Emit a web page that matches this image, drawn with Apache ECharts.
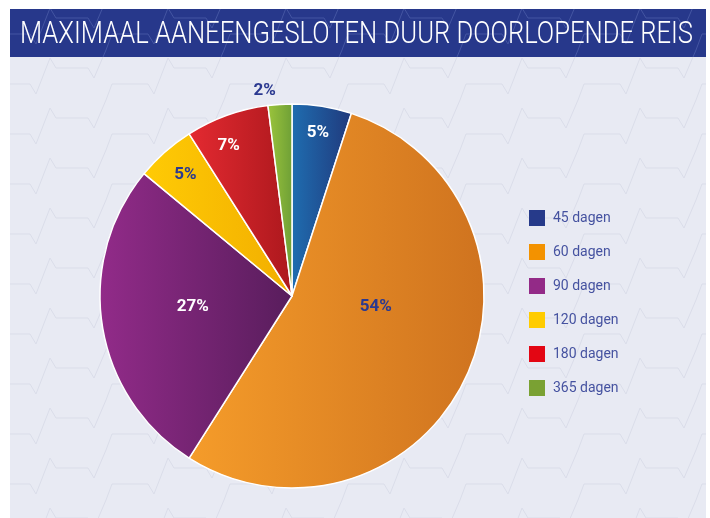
<!DOCTYPE html>
<html>
<head>
<meta charset="utf-8">
<script src="https://cdn.jsdelivr.net/npm/echarts@6/dist/echarts.min.js"></script>
<style>
  html, body { margin: 0; padding: 0; background: #ffffff; }
  #chart { width: 710px; height: 518px; }
</style>
</head>
<body>
<div id="chart"></div>
<script>
// data
const titleText = 'MAXIMAAL AANEENGESLOTEN DUUR DOORLOPENDE REIS';
const categories = ['45 dagen', '60 dagen', '90 dagen', '120 dagen', '180 dagen', '365 dagen'];
const shares = [5, 54, 27, 5, 7, 2];

// kleuren: [licht, donker] per taart-segment, vlakke kleur voor de legenda
const sliceColors = [
  ['#1f6db0', '#20397c'],
  ['#f59c2a', '#cf731f'],
  ['#922b89', '#581d5c'],
  ['#ffcb05', '#f2ae00'],
  ['#e42a31', '#ac181d'],
  ['#9cc53c', '#6e9f36']
];
const legendColors = ['#263a8a', '#f39200', '#932a87', '#ffcc00', '#e30613', '#7aa133'];
const labelColors = ['#ffffff', '#2b3990', '#ffffff', '#2b3990', '#ffffff', '#2b3990'];

const font = 'Roboto, sans-serif';
const cx = 292, cy = 296, R = 192;

// label plaatsing: fractie van straal en hoekverschuiving (graden)
const labelRadius = [0.86, 0.44, 0.52, 0.84, 0.85, 1.08];
const labelShift = [0, -18, 3, 0, -3, -4];

// achtergrondpatroon (hartslaglijntjes)
function makePattern(stroke) {
  const c = document.createElement('canvas');
  c.width = 118; c.height = 50;
  const g = c.getContext('2d');
  g.strokeStyle = stroke;
  g.lineWidth = 1;
  g.beginPath();
  g.moveTo(0, 34); g.lineTo(30, 34); g.lineTo(36, 44); g.lineTo(50, 8);
  g.lineTo(56, 18); g.lineTo(88, 18); g.lineTo(94, 28); g.lineTo(106, 0);
  g.moveTo(106, 50); g.lineTo(112, 34); g.lineTo(118, 34);
  g.stroke();
  return c;
}

// titel smal maken (condensed letter)
const titleFont = '300 32px ' + font;
const measure = document.createElement('canvas').getContext('2d');
measure.font = titleFont;
const titleScale = 673 / measure.measureText(titleText).width;

const chart = echarts.init(document.getElementById('chart'));

const total = shares.reduce((a, b) => a + b, 0);
const midAngles = [];
let acc = 0;
shares.forEach(v => {
  midAngles.push((acc + v / 2) / total * 360);
  acc += v;
});

const pieData = categories.map((name, i) => ({
  name: name,
  value: shares[i],
  itemStyle: {
    color: new echarts.graphic.LinearGradient(0, 0, 1, 0, [
      { offset: 0, color: sliceColors[i][0] },
      { offset: 1, color: sliceColors[i][1] }
    ])
  },
  label: { color: labelColors[i] }
}));

const option = {
  backgroundColor: '#ffffff',
  animation: false,
  graphic: [
    { type: 'rect', z: -10, shape: { x: 10, y: 9, width: 696, height: 509 }, style: { fill: '#e8eaf3' } },
    { type: 'rect', z: -9, shape: { x: 10, y: 57, width: 696, height: 461 },
      style: { fill: { image: makePattern('#dadde9'), repeat: 'repeat' } } },
    { type: 'rect', z: -8, shape: { x: 10, y: 9, width: 696, height: 48 }, style: { fill: '#27388b' } },
    { type: 'rect', z: -7, shape: { x: 10, y: 9, width: 696, height: 48 },
      style: { fill: { image: makePattern('#4455a2'), repeat: 'repeat' } } },
    { type: 'text', z: 10, x: 20, y: 35, scaleX: titleScale,
      style: { text: titleText, fill: '#ffffff', font: titleFont, verticalAlign: 'middle' } }
  ],
  legend: {
    orient: 'vertical',
    left: 529,
    top: 210,
    padding: 0,
    itemWidth: 16,
    itemHeight: 16,
    itemGap: 18,
    icon: 'rect',
    textStyle: { color: '#4552a0', fontSize: 14, lineHeight: 16, fontFamily: font, padding: [0, 0, 0, 3] },
    data: categories.map((name, i) => ({
      name: name,
      itemStyle: { color: legendColors[i], borderWidth: 0 }
    }))
  },
  series: [{
    type: 'pie',
    center: [cx, cy],
    radius: R,
    startAngle: 90,
    clockwise: true,
    itemStyle: { borderColor: '#ffffff', borderWidth: 1.5 },
    label: {
      show: true,
      position: 'inside',
      formatter: '{c}%',
      fontFamily: font,
      fontWeight: 'bold',
      fontSize: 17
    },
    labelLine: { show: false },
    emphasis: { disabled: true },
    labelLayout: function (params) {
      const i = params.dataIndex;
      const a = (midAngles[i] + labelShift[i]) * Math.PI / 180;
      const r = labelRadius[i] * R;
      return { x: cx + r * Math.sin(a), y: cy - r * Math.cos(a), align: 'center', verticalAlign: 'middle' };
    },
    data: pieData
  }]
};

chart.setOption(option);
</script>
</body>
</html>
